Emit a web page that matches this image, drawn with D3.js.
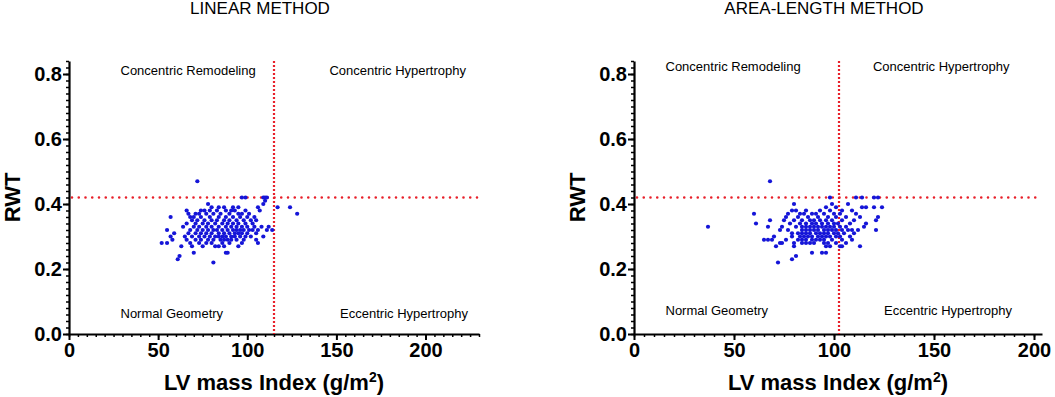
<!DOCTYPE html>
<html>
<head>
<meta charset="utf-8">
<script src="https://cdn.jsdelivr.net/npm/d3@7"></script>
<style>
  body { margin: 0; background: #fff; }
  svg { display: block; font-family: "Liberation Sans", Arial, sans-serif; }
  .tick text { font-weight: bold; font-size: 20px; fill: #000; }
</style>
</head>
<body>
<svg width="1055" height="397"></svg>
<script>
// LINEAR METHOD: LV mass index (g/m2) and RWT per subject
var linearMass = [72,
  97, 99, 109, 110, 111,
  110,
  78, 109,
  80, 84, 87, 92, 95, 106, 117, 124,
  66, 74, 76, 79, 83, 88, 91, 93, 99, 107,
  67, 71, 73, 77, 81, 85, 90, 95, 97, 101, 128,
  57, 68, 70, 74, 79, 84, 88, 92, 96, 100, 104,
  69, 72, 76, 80, 83, 87, 90, 94, 98, 102, 105,
  66, 71, 75, 78, 82, 86, 89, 92, 95, 99, 103,
  64, 70, 73, 77, 80, 84, 88, 91, 94, 97, 100, 104, 108, 112,
  55, 68, 72, 75, 78, 81, 83, 86, 89, 92, 94, 96, 98, 101, 103, 106, 111, 114,
  59, 67, 71, 74, 77, 80, 84, 87, 90, 93, 95, 97, 100, 105,
  57, 65, 69, 73, 76, 79, 82, 84, 86, 88, 91, 93, 96, 99, 102, 109,
  58, 66, 71, 74, 78, 81, 85, 87, 89, 91, 94, 98, 105,
  52, 55, 68, 73, 77, 80, 86, 90, 97, 106,
  63, 69, 75, 82, 84, 87, 95,
  70, 88, 89,
  62, 61, 81];
var linearRwt = [0.47,
  0.42, 0.42, 0.42, 0.42, 0.42,
  0.41,
  0.40, 0.40,
  0.39, 0.39, 0.39, 0.39, 0.39, 0.39, 0.39, 0.39,
  0.38, 0.38, 0.38, 0.38, 0.38, 0.38, 0.38, 0.38, 0.38, 0.38,
  0.37, 0.37, 0.37, 0.37, 0.37, 0.37, 0.37, 0.37, 0.37, 0.37, 0.37,
  0.36, 0.36, 0.36, 0.36, 0.36, 0.36, 0.36, 0.36, 0.36, 0.36, 0.36,
  0.35, 0.35, 0.35, 0.35, 0.35, 0.35, 0.35, 0.35, 0.35, 0.35, 0.35,
  0.34, 0.34, 0.34, 0.34, 0.34, 0.34, 0.34, 0.34, 0.34, 0.34, 0.34,
  0.33, 0.33, 0.33, 0.33, 0.33, 0.33, 0.33, 0.33, 0.33, 0.33, 0.33, 0.33, 0.33, 0.33,
  0.32, 0.32, 0.32, 0.32, 0.32, 0.32, 0.32, 0.32, 0.32, 0.32, 0.32, 0.32, 0.32, 0.32, 0.32, 0.32, 0.32, 0.32,
  0.31, 0.31, 0.31, 0.31, 0.31, 0.31, 0.31, 0.31, 0.31, 0.31, 0.31, 0.31, 0.31, 0.31,
  0.30, 0.30, 0.30, 0.30, 0.30, 0.30, 0.30, 0.30, 0.30, 0.30, 0.30, 0.30, 0.30, 0.30, 0.30, 0.30,
  0.29, 0.29, 0.29, 0.29, 0.29, 0.29, 0.29, 0.29, 0.29, 0.29, 0.29, 0.29, 0.29,
  0.28, 0.28, 0.28, 0.28, 0.28, 0.28, 0.28, 0.28, 0.28, 0.28,
  0.27, 0.27, 0.27, 0.27, 0.27, 0.27, 0.27,
  0.25, 0.25, 0.25,
  0.24, 0.23, 0.22];

// AREA-LENGTH METHOD
var areaMass = [68,
  98, 111, 114, 120, 122,
  80, 99, 107,
  96, 101, 114, 116, 120, 124,
  79, 81, 86, 93, 98, 104, 109,
  60, 77, 83, 85, 89, 91, 95, 100, 103, 111,
  76, 82, 87, 92, 97, 101, 106, 113, 122,
  68, 75, 80, 84, 88, 90, 93, 96, 99, 104, 110, 121,
  61, 78, 83, 86, 89, 91, 94, 97, 100, 102, 108, 116,
  37, 67, 74, 81, 84, 86, 88, 90, 92, 94, 96, 98, 100, 103, 106, 115,
  73, 77, 84, 86, 88, 90, 92, 95, 97, 99, 101, 104, 107, 109, 112, 121,
  79, 82, 84, 86, 88, 91, 93, 95, 97, 100, 102, 105, 110,
  70, 79, 83, 85, 87, 89, 92, 94, 96, 98, 101, 103, 108,
  65, 67, 69, 76, 82, 84, 86, 89, 91, 93, 95, 99, 104, 109,
  73, 74, 80, 84, 86, 88, 90, 95, 97, 101, 106,
  71, 80, 96, 98, 103, 104, 113,
  89, 94, 96,
  81, 79, 72];
var areaRwt = [0.47,
  0.42, 0.42, 0.42, 0.42, 0.42,
  0.40, 0.40, 0.40,
  0.39, 0.39, 0.39, 0.39, 0.39, 0.39,
  0.38, 0.38, 0.38, 0.38, 0.38, 0.38, 0.38,
  0.37, 0.37, 0.37, 0.37, 0.37, 0.37, 0.37, 0.37, 0.37, 0.37,
  0.36, 0.36, 0.36, 0.36, 0.36, 0.36, 0.36, 0.36, 0.36,
  0.35, 0.35, 0.35, 0.35, 0.35, 0.35, 0.35, 0.35, 0.35, 0.35, 0.35, 0.35,
  0.34, 0.34, 0.34, 0.34, 0.34, 0.34, 0.34, 0.34, 0.34, 0.34, 0.34, 0.34,
  0.33, 0.33, 0.33, 0.33, 0.33, 0.33, 0.33, 0.33, 0.33, 0.33, 0.33, 0.33, 0.33, 0.33, 0.33, 0.33,
  0.32, 0.32, 0.32, 0.32, 0.32, 0.32, 0.32, 0.32, 0.32, 0.32, 0.32, 0.32, 0.32, 0.32, 0.32, 0.32,
  0.31, 0.31, 0.31, 0.31, 0.31, 0.31, 0.31, 0.31, 0.31, 0.31, 0.31, 0.31, 0.31,
  0.30, 0.30, 0.30, 0.30, 0.30, 0.30, 0.30, 0.30, 0.30, 0.30, 0.30, 0.30, 0.30,
  0.29, 0.29, 0.29, 0.29, 0.29, 0.29, 0.29, 0.29, 0.29, 0.29, 0.29, 0.29, 0.29, 0.29,
  0.28, 0.28, 0.28, 0.28, 0.28, 0.28, 0.28, 0.28, 0.28, 0.28, 0.28,
  0.27, 0.27, 0.27, 0.27, 0.27, 0.27, 0.27,
  0.25, 0.25, 0.25,
  0.24, 0.23, 0.22];

var quadrantLabels = ["Concentric Remodeling", "Concentric Hypertrophy", "Normal Geometry", "Eccentric Hypertrophy"];
var rwtCutoff = 0.42;
var yTicks = [0, 0.2, 0.4, 0.6, 0.8];
var xTicks = [0, 50, 100, 150, 200];

var panels = [
  {title: "LINEAR METHOD", mass: linearMass, rwt: linearRwt, xMax: 230, massCutoff: 115,
   left: 69, right: 479, labelX: [120.5, 466, 120.5, 468], labelY: [75, 75, 318, 318]},
  {title: "AREA-LENGTH METHOD", mass: areaMass, rwt: areaRwt, xMax: 204, massCutoff: 102.5,
   left: 634, right: 1042, labelX: [665.5, 1009.5, 665.5, 1012], labelY: [71, 71, 315, 315]}
];

var svg = d3.select("svg"),
    plotTop = 61, plotBottom = 334;

var y = d3.scaleLinear().domain([0, 0.84]).range([plotBottom, plotTop]);

panels.forEach(function(p) {
  var x = d3.scaleLinear().domain([0, p.xMax]).range([p.left, p.right]);
  var g = svg.append("g");
  var cx = (p.left + p.right) / 2;

  g.append("text")
      .attr("x", cx - 14)
      .attr("y", 14)
      .attr("text-anchor", "middle")
      .style("font-size", "17px")
      .text(p.title);

  // minor ticks
  g.append("g")
      .attr("transform", "translate(0," + plotBottom + ")")
      .call(d3.axisBottom(x).tickValues(d3.range(0, p.xMax + 0.01, 5)).tickSize(3).tickFormat(""))
      .call(function(a) { a.select(".domain").remove(); a.selectAll("line").attr("stroke-width", 1.5); });
  g.append("g")
      .attr("transform", "translate(" + p.left + ",0)")
      .call(d3.axisLeft(y).tickValues(d3.range(0, 0.845, 0.02)).tickSize(3).tickFormat(""))
      .call(function(a) { a.select(".domain").remove(); a.selectAll("line").attr("stroke-width", 1.5); });

  // major axes
  g.append("g")
      .attr("transform", "translate(0," + plotBottom + ")")
      .call(d3.axisBottom(x).tickValues(xTicks).tickSize(6).tickSizeOuter(0).tickPadding(3))
      .call(function(a) { a.selectAll("line").attr("stroke-width", 2); a.select(".domain").attr("stroke-width", 2.2); });
  g.append("g")
      .attr("transform", "translate(" + p.left + ",0)")
      .call(d3.axisLeft(y).tickValues(yTicks).tickSize(6).tickSizeOuter(0).tickPadding(1).tickFormat(d3.format(".1f")))
      .call(function(a) { a.selectAll("line").attr("stroke-width", 2); a.select(".domain").attr("stroke-width", 2.2); });

  // axis titles
  var xl = g.append("text")
      .attr("x", cx)
      .attr("y", 390)
      .attr("text-anchor", "middle")
      .style("font-size", "22px")
      .style("font-weight", "bold");
  xl.append("tspan").text("LV mass Index (g/m");
  xl.append("tspan").attr("dy", -8).style("font-size", "14px").text("2");
  xl.append("tspan").attr("dy", 8).text(")");

  g.append("text")
      .attr("transform", "translate(" + (p.left - 49) + "," + ((plotTop + plotBottom) / 2) + ") rotate(-90)")
      .attr("text-anchor", "middle")
      .style("font-size", "22px")
      .style("font-weight", "bold")
      .text("RWT");

  // cutoff lines
  g.append("line")
      .attr("x1", p.left + 3).attr("x2", p.right)
      .attr("y1", y(rwtCutoff)).attr("y2", y(rwtCutoff))
      .attr("stroke", "#e8202a").attr("stroke-width", 2.6)
      .attr("stroke-linecap", "round").attr("stroke-dasharray", "0,6.75");
  g.append("line")
      .attr("x1", x(p.massCutoff)).attr("x2", x(p.massCutoff))
      .attr("y1", plotTop).attr("y2", plotBottom)
      .attr("stroke", "#e8202a").attr("stroke-width", 2.2)
      .attr("stroke-dasharray", "2,2");

  // quadrant labels
  g.selectAll(".qlabel")
    .data(quadrantLabels)
    .enter().append("text")
      .attr("class", "qlabel")
      .attr("x", function(d, i) { return p.labelX[i]; })
      .attr("y", function(d, i) { return p.labelY[i]; })
      .attr("text-anchor", function(d, i) { return i % 2 ? "end" : "start"; })
      .style("font-size", "13px")
      .text(function(d) { return d; });

  // points
  g.selectAll(".dot")
    .data(p.mass)
    .enter().append("circle")
      .attr("class", "dot")
      .attr("cx", function(d) { return x(d); })
      .attr("cy", function(d, i) { return y(p.rwt[i]); })
      .attr("r", 2.1)
      .attr("fill", "#1515d8");
});
</script>
</body>
</html>
